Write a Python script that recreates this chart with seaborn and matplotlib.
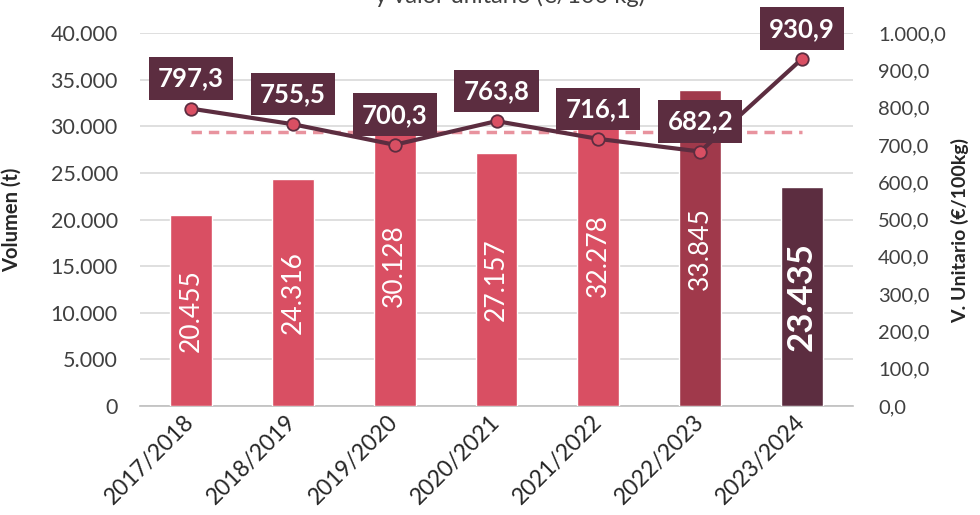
import numpy as np
import pandas as pd
import seaborn as sns
import matplotlib.pyplot as plt
import matplotlib.transforms as mtransforms
from matplotlib.ticker import FuncFormatter, MultipleLocator

# datos
temporadas = ['2017/2018', '2018/2019', '2019/2020', '2020/2021', '2021/2022', '2022/2023', '2023/2024']
volumen = [20455, 24316, 30128, 27157, 32278, 33845, 23435]
precio = [797.3, 755.5, 700.3, 763.8, 716.1, 682.2, 930.9]
colores = ['#D94F63', '#D94F63', '#D94F63', '#D94F63', '#D94F63', '#A0394B', '#5C2D40']

media_anterior = np.mean(precio[:-1])  # media de las campañas anteriores

sns.set_theme(style='white')
plt.rcParams['font.family'] = ['Lato', 'DejaVu Sans']

def fmt_miles(v, pos=None):
    return f'{v:,.0f}'.replace(',', '.')

def fmt_precio(v, pos=None):
    s = f'{v:,.1f}'
    return s.replace(',', 'X').replace('.', ',').replace('X', '.')

df = pd.DataFrame({'temporada': temporadas, 'volumen': volumen})

fig = plt.figure(figsize=(9.8, 5.15), dpi=100)
ax = fig.add_axes([140 / 980, 109 / 515, 713 / 980, 373 / 515])

sns.barplot(data=df, x='temporada', y='volumen', hue='temporada', palette=colores,
            legend=False, width=0.41, saturation=1, ax=ax, zorder=3)
ax.set_ylim(0, 40000)
ax.set_xlim(-0.5, 6.5)
ax.yaxis.set_major_locator(MultipleLocator(5000))
ax.yaxis.set_major_formatter(FuncFormatter(fmt_miles))
ax.grid(axis='y', color='#D9D9D9', linewidth=1.2, zorder=0)
ax.set_axisbelow(True)
for s in ['top', 'left', 'right']:
    ax.spines[s].set_visible(False)
ax.spines['bottom'].set_color('#BFBFBF')
ax.spines['bottom'].set_linewidth(1.2)
ax.tick_params(axis='y', length=0, pad=16, labelsize=15.5, labelcolor='#404040')
ax.set_xticks(range(len(temporadas)))
ax.set_xticks(np.arange(-0.5, 7, 1), minor=True)
ax.tick_params(axis='x', which='major', length=0, pad=9)
ax.tick_params(axis='x', which='minor', length=7, color='#BFBFBF', width=1.2)
ax.set_xticklabels(temporadas, rotation=45, ha='right', va='center', rotation_mode='anchor',
                   fontsize=16.5, color='#262626')
ax.set_xlabel('')
ax.set_ylabel('Volumen (t)', fontsize=14.5, fontweight='bold', color='#262626')
ax.yaxis.set_label_coords(-118 / 713, 0.5)

# etiquetas de las barras
for i, v in enumerate(volumen):
    ultimo = i == len(volumen) - 1
    ax.text(i, v / 2, fmt_miles(v), rotation=90, ha='center', va='center', color='white',
            fontsize=25 if ultimo else 19, fontweight='bold' if ultimo else 'normal', zorder=5)

# eje secundario: valor unitario
ax2 = ax.twinx()
ax2.set_ylim(0, 1000)
ax2.yaxis.set_major_locator(MultipleLocator(100))
ax2.yaxis.set_major_formatter(FuncFormatter(fmt_precio))
ax2.tick_params(axis='y', length=0, pad=18, labelsize=14.5, labelcolor='#404040')
for s in ax2.spines.values():
    s.set_visible(False)
ax2.set_ylabel('V. Unitario (€/100kg)', fontsize=14, fontweight='bold', color='#262626')
ax2.yaxis.set_label_coords(1 + 98 / 713, 0.47)

# linea de media detras de las barras
trans = mtransforms.blended_transform_factory(ax.transData, ax2.transData)
ax.plot([0, len(precio) - 1], [media_anterior, media_anterior], transform=trans,
        color='#E8939E', linestyle=(0, (3, 2)), linewidth=2.5, zorder=2)

x = np.arange(len(precio))
ax2.plot(x, precio, color='#5C2D40', linewidth=3, marker='o', markersize=9,
         markerfacecolor='#D94F63', markeredgecolor='#5C2D40', markeredgewidth=1.3, zorder=4)
for i, p in enumerate(precio):
    ax2.annotate(fmt_precio(p), (i, p), xytext=(0, 13), textcoords='offset points',
                 ha='center', va='bottom', color='white', fontsize=18.5, fontweight='bold',
                 bbox=dict(boxstyle='square,pad=0.36', fc='#5C2D40', ec='none'), zorder=6)

fig.text(510 / 980, 1 - 3 / 515, 'y valor unitario (€/100 kg)', ha='center', va='baseline',
         fontsize=17, color='#404040')

fig.savefig('out.png', dpi=100)
